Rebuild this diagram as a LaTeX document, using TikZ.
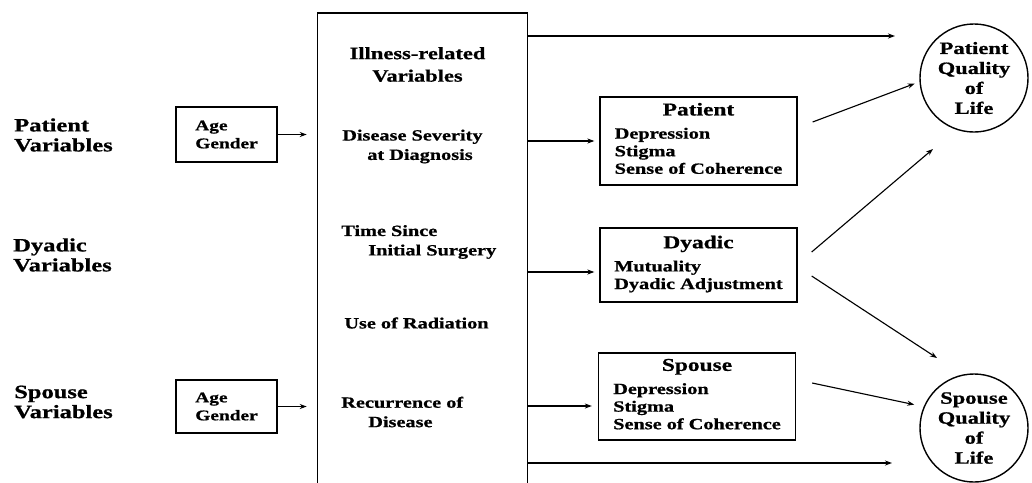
\documentclass[tikz,border=0pt]{standalone}
\usepackage{fontspec}
\setmainfont{Liberation Serif}[FakeStretch=1.3, BoldFeatures={FakeBold=0.8}]
\usetikzlibrary{arrows.meta}
\tikzset{
	varlabel/.style={anchor=west, align=left, inner sep=0pt, font=\fontsize{13.4}{14.2}\selectfont\bfseries},
	agebox/.style={draw, line width=0.9pt, minimum width=2.525cm, minimum height=1.375cm, inner sep=0pt, align=left, font=\fontsize{10.6}{12.8}\selectfont\bfseries},
	itemtext/.style={align=left, inner sep=0pt, font=\fontsize{11.1}{13.8}\selectfont\bfseries},
	outbox/.style={draw, line width=0.9pt, minimum width=4.925cm, inner sep=0pt, font=\fontsize{11.1}{12.5}\selectfont\bfseries},
	qol/.style={circle, draw, line width=1pt, minimum size=2.7cm, inner sep=0pt, align=center, font=\fontsize{12.3}{14.2}\selectfont\bfseries},
	arr/.style={-{Stealth[length=5pt, width=3.6pt]}, line width=0.8pt}
}
\newcommand{\boxhead}[1]{\multicolumn{1}{@{}c@{}}{\fontsize{12.8}{14}\selectfont #1}}

\begin{document}
\begin{tikzpicture}[x=0.025cm, y=-0.025cm]
	\useasboundingbox (0,0) rectangle (1032,482);

	% Left-hand labels
	\node[varlabel] (pv) at (14,135) {Patient\\Variables};
	\node[varlabel] (dv) at (13,255) {Dyadic\\Variables};
	\node[varlabel] (sv) at (14,402) {Spouse\\Variables};

	% Age / gender boxes
	\node[agebox] (pag) at (226.5,134.5) {Age\\Gender};
	\node[agebox, minimum height=1.325cm] (sag) at (226.5,406.5) {Age\\Gender};

	% Illness-related block, open at the bottom
	\node[minimum width=5.225cm, minimum height=11.725cm, inner sep=0pt, anchor=north] (big) at (422.5,13) {};
	\draw[line width=1pt] (big.south west) -- (big.north west) -- (big.north east) -- (big.south east);

	\node[itemtext, align=center, font=\fontsize{12.3}{16}\selectfont\bfseries] (ill) at (417.5,64.5) {Illness-related\\Variables};
	\node[itemtext, anchor=west] (sev) at (342,146.5) {Disease Severity\\\hspace*{0.625cm}at Diagnosis};
	\node[itemtext, anchor=west] (time) at (341,242) {Time Since\\\hspace*{0.675cm}Initial Surgery};
	\node[itemtext] (rad) at (416.5,323) {Use of Radiation};
	\node[itemtext, anchor=west] (rec) at (341,412) {Recurrence of\\\hspace*{0.675cm}Disease};

	% Mediating boxes
	\node[outbox, minimum height=2.2cm] (pbox) at (698.5,141) {\begin{tabular}{@{}l@{}}\boxhead{Patient}\\[4pt] Depression\\Stigma\\Sense of Coherence\end{tabular}};
	\node[outbox, minimum height=1.85cm] (dbox) at (698.5,265) {\begin{tabular}{@{}l@{}}\boxhead{Dyadic}\\[4pt] Mutuality\\Dyadic Adjustment\end{tabular}};
	\node[outbox, minimum height=2.175cm] (sbox) at (697,396.5) {\begin{tabular}{@{}l@{}}\boxhead{Spouse}\\[4pt] Depression\\Stigma\\Sense of Coherence\end{tabular}};

	% Outcomes
	\node[qol] (pqol) at (974,78) {Patient\\Quality\\of\\Life};
	\node[qol] (sqol) at (974,428) {Spouse\\Quality\\of\\Life};

	% Free arrow ends
	\coordinate (ptip) at (895,36);
	\coordinate (stip) at (892,463);
	\coordinate (dptip) at (933,149);
	\coordinate (dstip) at (937,358);
	\coordinate (darr) at ([shift={(0,7)}]dbox.west);
	\coordinate (sarr) at ([shift={(0,9.5)}]sbox.west);

	% Arrows
	\draw[arr, shorten >=0.275cm] (pag.east) -- (pag.east -| big.west);
	\draw[arr, shorten >=0.275cm] (sag.east) -- (sag.east -| big.west);
	\draw[arr] (ptip -| big.east) -- (ptip);
	\draw[arr, shorten >=0.125cm] (big.east |- pbox.west) -- (pbox.west);
	\draw[arr, shorten >=0.125cm] (darr -| big.east) -- (darr);
	\draw[arr, shorten >=0.15cm] (sarr -| big.east) -- (sarr);
	\draw[arr] (stip -| big.east) -- (stip);
	\draw[arr, shorten >=0.125cm] ([shift={(15,-19)}]pbox.east) -- (pqol.184);
	\draw[arr] ([shift={(14,-13)}]dbox.east) -- (dptip);
	\draw[arr] ([shift={(14,11)}]dbox.east) -- (dstip);
	\draw[arr, shorten >=0.24cm] ([shift={(16,-13.5)}]sbox.east) -- (sqol.157);
\end{tikzpicture}
\end{document}
